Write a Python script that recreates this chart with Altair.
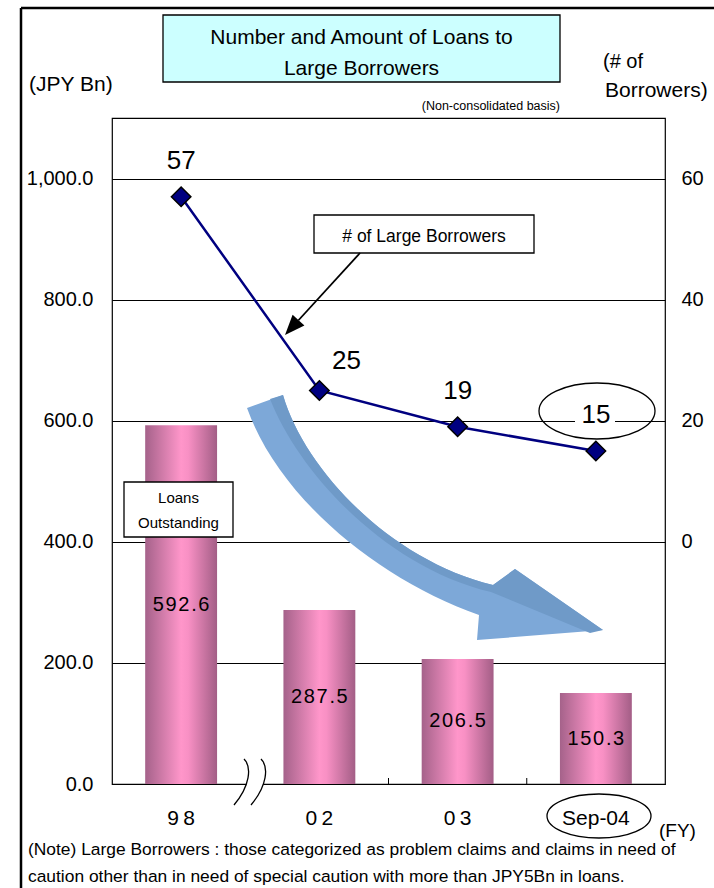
import altair as alt
import pandas as pd

# Loans to large borrowers, non-consolidated basis
periods = ["98", "02", "03", "Sep-04"]
loans_outstanding = [592.6, 287.5, 206.5, 150.3]   # JPY Bn
large_borrowers = [57, 25, 19, 15]                 # number of borrowers
left_ticks = [0, 200, 400, 600, 800, 1000]
right_ticks = [0, 20, 40, 60]

df = pd.DataFrame({"period": periods, "amount": loans_outstanding, "count": large_borrowers})
one = pd.DataFrame({"k": [0]})

PAGE_W, PAGE_H = 714, 888
OX, OY = 112, 118          # plot origin on the page
W, H = 553, 666            # plot area
FONT = "Liberation Sans"
PAD_IN, PAD_OUT = 0.48, 0.24


def px(x):
    return x - OX


def py(y):
    return y - OY


def path(cmds):
    """Build an SVG path in plot coordinates from page coordinates."""
    out = []
    for letter, pts in cmds:
        coords = " ".join(f"{px(pts[i]):.1f},{py(pts[i + 1]):.1f}" for i in range(0, len(pts), 2))
        out.append(letter + coords)
    return " ".join(out)


def ellipse_path(cx, cy, rx, ry):
    k = 0.5523
    c = [("M", [cx - rx, cy]),
         ("C", [cx - rx, cy - k * ry, cx - k * rx, cy - ry, cx, cy - ry]),
         ("C", [cx + k * rx, cy - ry, cx + rx, cy - k * ry, cx + rx, cy]),
         ("C", [cx + rx, cy + k * ry, cx + k * rx, cy + ry, cx, cy + ry]),
         ("C", [cx - k * rx, cy + ry, cx - rx, cy + k * ry, cx - rx, cy])]
    return path(c) + " Z"


def shape(svg, fill=None, stroke=None, sw=1.5):
    kw = dict(shape=svg, size=4, opacity=1)
    if fill:
        kw.update(filled=True, fill=fill, strokeWidth=0)
    else:
        kw.update(filled=False, stroke=stroke, strokeWidth=sw)
    return alt.Chart(one).mark_point(**kw).encode(x=alt.value(0), y=alt.value(0))


def text(t, x, y, size, align="center"):
    return alt.Chart(one).mark_text(
        text=t, font=FONT, fontSize=size, align=align, baseline="middle", color="black"
    ).encode(x=alt.value(px(x)), y=alt.value(py(y)))


def box(x1, y1, x2, y2, fill, sw=1.2, stroke="black"):
    kw = dict(fill=fill, strokeWidth=sw)
    if stroke:
        kw["stroke"] = stroke
    return alt.Chart(one).mark_rect(**kw).encode(
        x=alt.value(px(x1)), x2=alt.value(px(x2)),
        y=alt.value(py(y1)), y2=alt.value(py(y2)))


def rule(x1, y1, x2, y2, sw=1.0):
    return alt.Chart(one).mark_rule(color="black", strokeWidth=sw).encode(
        x=alt.value(px(x1)), x2=alt.value(px(x2)),
        y=alt.value(py(y1)), y2=alt.value(py(y2)))


def spaced(expr, gap):
    return "join(split(" + expr + ", ''), '" + gap + "')"


# ---- shared x (band) axis ----
x_scale = alt.Scale(paddingInner=PAD_IN, paddingOuter=PAD_OUT)
x_axis = alt.Axis(
    title=None, labelFont=FONT, labelFontSize=21, labelPadding=23, labelAngle=0,
    ticks=False, domain=False, labelColor="black",
    labelExpr="length(datum.label) == 2 ? " + spaced("datum.label", "\u2009") + " : datum.label",
)
x_enc = alt.X("period:N", sort=periods, scale=x_scale, axis=x_axis)

base = alt.Chart(df)

# ---- loans outstanding (left axis) ----
y_left_scale = alt.Scale(domain=[0, 1100], nice=False, zero=True)
y_left_axis = alt.Axis(values=left_ticks, format=",.1f", title=None, labelFont=FONT,
                       labelFontSize=20, labelPadding=19, ticks=False, domain=False,
                       grid=True, gridColor="black", gridWidth=1, labelColor="black")

bar_fill = alt.Gradient(
    gradient="linear", x1=0, x2=1, y1=0, y2=0,
    stops=[alt.GradientStop(offset=0, color="#A5628A"),
           alt.GradientStop(offset=0.5, color="#FF96CA"),
           alt.GradientStop(offset=0.6, color="#F890C4"),
           alt.GradientStop(offset=1, color="#A35E86")],
)
bars = base.mark_bar(fill=bar_fill).encode(
    x=x_enc, y=alt.Y("amount:Q", scale=y_left_scale, axis=y_left_axis))

bar_labels = base.transform_calculate(
    mid="datum.amount / 2",
    lbl=spaced("format(datum.amount, '.1f')", "\u200a"),
).mark_text(
    font=FONT, fontSize=20, color="black", baseline="middle"
).encode(
    x=x_enc,
    y=alt.Y("mid:Q", scale=y_left_scale, axis=y_left_axis),
    text="lbl:N",
)

# small inward ticks between the later periods
step = W / (len(periods) - PAD_IN + 2 * PAD_OUT)
x_ticks = alt.Chart(pd.DataFrame({"period": periods[2:]})).mark_rule(
    color="black", strokeWidth=1, xOffset=-step * PAD_IN / 2
).encode(
    x=alt.X("period:N", sort=periods, scale=x_scale, axis=x_axis, bandPosition=0),
    y=alt.value(H - 6), y2=alt.value(H),
)

left_group = alt.layer(bars, bar_labels, x_ticks)

# ---- number of large borrowers (right axis) ----
y_right_scale = alt.Scale(domain=[-40, 70], nice=False, zero=False)
y_right = alt.Y(
    "count:Q", scale=y_right_scale,
    axis=alt.Axis(orient="right", values=right_ticks, title=None, labelFont=FONT,
                  labelFontSize=20, labelPadding=16, ticks=False, domain=False,
                  grid=False, labelColor="black"),
)
line = base.mark_line(color="#000080", strokeWidth=2.5).encode(x=x_enc, y=y_right)
diamonds = base.mark_point(
    shape="diamond", filled=True, fill="#000080", stroke="black",
    strokeWidth=1.5, size=380, opacity=1
).encode(x=x_enc, y=y_right)
count_labels = base.transform_filter(alt.datum.period != "02").mark_text(
    font=FONT, fontSize=26, color="black", baseline="middle", dy=-36
).encode(x=x_enc, y=y_right, text="count:Q")
count_label_02 = base.transform_filter(alt.datum.period == "02").mark_text(
    font=FONT, fontSize=26, color="black", baseline="middle", dx=27, dy=-29
).encode(x=x_enc, y=y_right, text="count:Q")

right_group = alt.layer(line, diamonds, count_labels, count_label_02)

# ---- decorations ----
# broad curved trend arrow
trend_body = path([
    ("M", [247, 408]), ("L", [283, 395]),
    ("C", [305, 470, 390, 560, 493, 585]),
    ("L", [515, 569]), ("L", [603, 630]), ("L", [477, 640]), ("L", [479, 615]),
    ("C", [380, 580, 280, 500, 247, 408]),
]) + " Z"
trend_shade = path([
    ("M", [270, 399]), ("L", [283, 395]),
    ("C", [305, 470, 390, 560, 493, 585]),
    ("L", [515, 569]), ("L", [603, 630]), ("L", [590, 633]), ("L", [491, 592]),
    ("C", [388, 568, 300, 475, 270, 399]),
]) + " Z"

# callout arrow for the line series
tail, tip = (360, 253), (285, 335)
dxv, dyv = tip[0] - tail[0], tip[1] - tail[1]
ln = (dxv ** 2 + dyv ** 2) ** 0.5
ux, uy = dxv / ln, dyv / ln
head_len, head_half = 20, 8
bx, by = tip[0] - ux * head_len, tip[1] - uy * head_len
head = path([
    ("M", [tip[0], tip[1]]),
    ("L", [bx - uy * head_half, by + ux * head_half]),
    ("L", [bx + uy * head_half, by - ux * head_half]),
]) + " Z"

# axis break between FY98 and FY02
brk1 = [("M", [244, 759]), ("C", [252, 767, 250, 786, 234, 805])]
brk2 = [("M", [261, 759]), ("C", [269, 767, 267, 786, 251, 805])]
brk_fill = path([
    ("M", [244, 759]), ("C", [252, 767, 250, 786, 234, 805]),
    ("L", [251, 805]), ("C", [267, 786, 269, 767, 261, 759]),
]) + " Z"

decor_under = [
    box(575, 401, 615, 424, "white", sw=0, stroke=None),
    shape(trend_body, fill="#7DA8D8"),
    shape(trend_shade, fill="#6F9AC8"),
    shape(ellipse_path(597, 411, 58, 28), stroke="black", sw=1.3),
]

decor_over = [
    # outer frame
    rule(21, 8, PAGE_W, 8, sw=2.5),
    rule(21, 8, 21, PAGE_H, sw=2.5),
    # title box
    box(163, 15, 560, 82, "#CCFFFF", sw=1.3),
    text("Number and Amount of Loans to", 361.5, 37.5, 21),
    text("Large Borrowers", 361.5, 68.5, 21),
    text("(JPY Bn)", 29, 85, 21, align="left"),
    text("(# of", 603, 62, 20, align="left"),
    text("Borrowers)", 605, 91, 21, align="left"),
    text("(Non-consolidated basis)", 560, 106, 12.5, align="right"),
    # series callouts
    box(124, 482, 233, 537, "white", sw=1.3),
    text("Loans", 178.5, 498, 15),
    text("Outstanding", 178.5, 523, 15),
    box(314, 215, 534, 253, "white", sw=1.3),
    text("# of Large Borrowers", 424, 237, 17.5),
    rule(tail[0], tail[1], bx, by, sw=1.8),
    shape(head, fill="black"),
    # axis break
    shape(brk_fill, fill="white"),
    shape(path(brk1), stroke="black", sw=1.3),
    shape(path(brk2), stroke="black", sw=1.3),
    # latest period highlight and unit
    shape(ellipse_path(599, 816, 52, 22), stroke="black", sw=1.3),
    text("(FY)", 659, 831, 19, align="left"),
    # footnote
    text("(Note) Large Borrowers : those categorized as problem claims and claims in need of",
         28, 850, 17.4, align="left"),
    text("caution other than in need of special caution with more than JPY5Bn in loans.",
         28, 877, 17.4, align="left"),
]

chart = alt.layer(
    left_group, *decor_under, right_group, *decor_over
).resolve_scale(
    y="independent"
).properties(
    width=W, height=H,
    padding={"left": OX, "top": OY, "right": PAGE_W - OX - W, "bottom": PAGE_H - OY - H},
    autosize=alt.AutoSizeParams(type="none"),
    background="white",
).configure_view(
    stroke="black", strokeWidth=1.2
)

chart.save("out.html", embed_options={"renderer": "svg", "actions": False})
